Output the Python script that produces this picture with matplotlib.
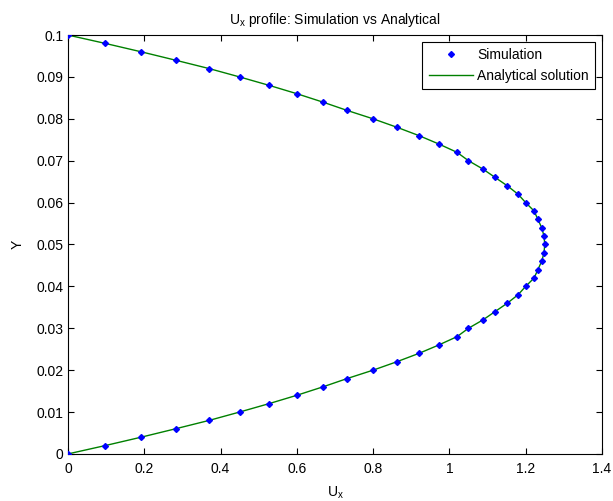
import matplotlib
matplotlib.use("Agg")
import matplotlib.pyplot as plt

plt.rcParams['font.family'] = ['Liberation Sans', 'DejaVu Sans']
plt.rcParams['mathtext.fontset'] = 'custom'
plt.rcParams['mathtext.rm'] = 'Liberation Sans'
plt.rcParams['mathtext.it'] = 'Liberation Sans'

# y positions (same grid for simulation and analytical curve)
y_vals = [0.000, 0.002, 0.004, 0.006, 0.008, 0.010, 0.012, 0.014, 0.016, 0.018,
          0.020, 0.022, 0.024, 0.026, 0.028, 0.030, 0.032, 0.034, 0.036, 0.038,
          0.040, 0.042, 0.044, 0.046, 0.048, 0.050, 0.052, 0.054, 0.056, 0.058,
          0.060, 0.062, 0.064, 0.066, 0.068, 0.070, 0.072, 0.074, 0.076, 0.078,
          0.080, 0.082, 0.084, 0.086, 0.088, 0.090, 0.092, 0.094, 0.096, 0.098,
          0.100]

ux_sim = [0.000, 0.098, 0.192, 0.282, 0.370, 0.450, 0.527, 0.600, 0.668, 0.732,
          0.800, 0.862, 0.920, 0.972, 1.020, 1.050, 1.088, 1.120, 1.152, 1.180,
          1.200, 1.222, 1.232, 1.242, 1.248, 1.250, 1.248, 1.242, 1.232, 1.222,
          1.200, 1.180, 1.152, 1.120, 1.088, 1.050, 1.020, 0.972, 0.920, 0.862,
          0.800, 0.732, 0.668, 0.600, 0.527, 0.450, 0.370, 0.282, 0.192, 0.098,
          0.000]

ux_analytic = [0.000, 0.098, 0.192, 0.282, 0.370, 0.450, 0.527, 0.600, 0.668, 0.732,
               0.800, 0.862, 0.920, 0.972, 1.020, 1.050, 1.088, 1.120, 1.152, 1.180,
               1.200, 1.222, 1.232, 1.242, 1.248, 1.250, 1.248, 1.242, 1.232, 1.222,
               1.200, 1.180, 1.152, 1.120, 1.088, 1.050, 1.020, 0.972, 0.920, 0.862,
               0.800, 0.732, 0.668, 0.600, 0.527, 0.450, 0.370, 0.282, 0.192, 0.098,
               0.000]

x_ticks = [0, 0.2, 0.4, 0.6, 0.8, 1, 1.2, 1.4]
x_ticklabels = ['0', '0.2', '0.4', '0.6', '0.8', '1', '1.2', '1.4']
y_ticks = [0, 0.01, 0.02, 0.03, 0.04, 0.05, 0.06, 0.07, 0.08, 0.09, 0.1]
y_ticklabels = ['0', '0.01', '0.02', '0.03', '0.04', '0.05', '0.06', '0.07', '0.08', '0.09', '0.1']

fig = plt.figure(figsize=(6.13, 5.01), dpi=100)
ax = fig.add_axes([0.111, 0.094, 0.871, 0.836])

ax.plot(ux_sim, y_vals, linestyle='none', marker='D', markersize=3,
        color='#0000ff', label='Simulation', zorder=3)
ax.plot(ux_analytic, y_vals, color='#008000', linewidth=1, label='Analytical solution')

ax.set_xlim(0, 1.4)
ax.set_ylim(0, 0.1)
ax.set_xticks(x_ticks)
ax.set_xticklabels(x_ticklabels)
ax.set_yticks(y_ticks)
ax.set_yticklabels(y_ticklabels)
ax.tick_params(direction='in', top=True, right=True, labelsize=10, length=4, width=0.8)
ax.tick_params(axis='x', pad=6)
for s in ax.spines.values():
    s.set_linewidth(0.8)

ax.set_title(r'U$_\mathrm{x}$ profile: Simulation vs Analytical', fontsize=10, pad=8)
ax.set_xlabel(r'U$_\mathrm{x}$', fontsize=10, labelpad=6)
ax.set_ylabel('Y', fontsize=10, labelpad=8)

leg = ax.legend(loc='upper right', fontsize=10, fancybox=False, edgecolor='black',
                framealpha=1, borderaxespad=0.5, handlelength=3.2,
                handletextpad=0.3, borderpad=0.45, labelspacing=0.45)
leg.get_frame().set_linewidth(0.8)

fig.savefig('out.png', dpi=100)
